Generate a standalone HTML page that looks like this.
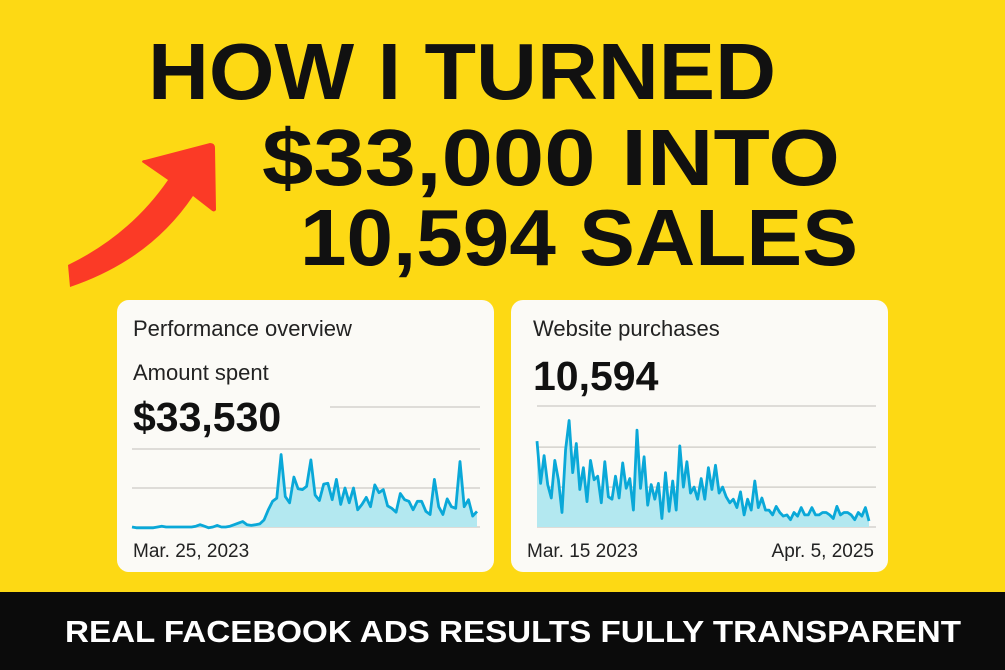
<!DOCTYPE html>
<html><head><meta charset="utf-8"><style>
html,body{margin:0;padding:0;width:1005px;height:670px;overflow:hidden;background:#fdd914}
svg{display:block}
text{font-family:"Liberation Sans",Arial,sans-serif}
</style></head><body>
<svg id="s" width="1005" height="670" viewBox="0 0 1005 670">
<rect width="1005" height="670" fill="#fdd914"/>
<g font-weight="bold" fill="#111">
<text x="148" y="99" font-size="80" textLength="628" lengthAdjust="spacingAndGlyphs">HOW I TURNED</text>
<text x="262" y="185" font-size="80" textLength="578" lengthAdjust="spacingAndGlyphs">$33,000 INTO</text>
<text x="300" y="265" font-size="80" textLength="558" lengthAdjust="spacingAndGlyphs">10,594 SALES</text>
</g>
<path d="M68,265 Q130,235 168,180 L142,162 Q142,160 145,160 L210,143 Q215,143 215,148 L216,210 Q214,213 211,210 L193,196 Q150,260 70,287 Z" fill="#fb3a26"/>

<rect x="117" y="300" width="377" height="272" rx="12" fill="#fbfaf6"/>
<rect x="511" y="300" width="377" height="272" rx="12" fill="#fbfaf6"/>

<text x="133" y="336" font-size="22" fill="#222">Performance overview</text>
<text x="133" y="380" font-size="22" fill="#222">Amount spent</text>
<text x="133" y="431" font-size="41" font-weight="bold" fill="#111">$33,530</text>
<text x="133" y="557" font-size="19" fill="#222">Mar. 25, 2023</text>

<text x="533" y="336" font-size="22" fill="#222">Website purchases</text>
<text x="533" y="390" font-size="41" font-weight="bold" fill="#111">10,594</text>
<text x="527" y="557" font-size="19" fill="#222">Mar. 15  2023</text>
<text x="874" y="557" font-size="19" fill="#222" text-anchor="end">Apr. 5, 2025</text>

<g id="c1"></g>
<g id="c2"></g>

<rect x="0" y="592" width="1005" height="78" fill="#0b0b0b"/>
<text x="513" y="642" font-size="31" font-weight="bold" fill="#fff" text-anchor="middle" textLength="896" lengthAdjust="spacingAndGlyphs">REAL FACEBOOK ADS RESULTS FULLY TRANSPARENT</text>
</svg>
<script>
const spentValues = [0,-1,-1,-1,-1,-1,0,1,0,0,0,0,0,0,0,1,3,1,-1,0,2,0,0,1,3,5,7,3,2,3,4,
9,22,33,37,93,39,31,64,49,48,52,86,41,34,55,56,35,61,29,50,31,50,22,29,38,26,54,44,48,27,24,19,43,35,33,22,33,33,20,16,61,26,16,36,26,24,84,26,35,14,20];
const purchaseValues = [71,36,59,35,24,55,39,12,64,88,45,69,31,49,21,55,39,42,20,54,25,23,42,24,53,32,40,14,80,32,58,18,35,23,36,7,45,13,38,14,67,33,54,28,33,23,40,23,49,31,51,28,33,25,20,23,16,29,10,23,14,38,16,24,14,14,10,17,12,9,10,6,12,9,16,10,10,16,10,10,12,12,10,7,17,10,12,12,10,6,12,9,16,5];
const spentGridTicks = [0,50,100];
const purchaseGridTicks = [0,33,66,100];

const NS="http://www.w3.org/2000/svg";
function mk(tag,attrs,parent){const e=document.createElementNS(NS,tag);for(const k in attrs)e.setAttribute(k,attrs[k]);parent.appendChild(e);return e;}

function drawChart(gid,vals,ticks,x0,x1,gx0,gx1,y0,y1,extraLine){
  const g=document.getElementById(gid);
  const ys=v=>y0-(v/100)*(y0-y1);
  const xs=i=>x0+i*(x1-x0)/(vals.length-1);
  ticks.forEach(t=>{
    const l=mk('line',{x1:gx0,x2:gx1,y1:ys(t),y2:ys(t),stroke:'#d4d2cd','stroke-width':1.5},g);
    
    
  });
  if(extraLine){
    const l=mk('line',{x1:extraLine[0],x2:gx1,y1:extraLine[1],y2:extraLine[1],stroke:'#d4d2cd','stroke-width':1.5},g);
    
    
  }
  let d='';vals.forEach((v,i)=>{d+=(i?'L':'M')+xs(i).toFixed(1)+','+ys(v).toFixed(1);});
  const area=mk('path',{d:d+'L'+xs(vals.length-1)+','+y0+'L'+x0+','+y0+'Z',fill:'#b3e8f0'},g);
  
  
  const line=mk('path',{d:d,fill:'none',stroke:'#0aa8d8','stroke-width':2.8,'stroke-linejoin':'round'},g);
  
  
}
drawChart('c1',spentValues,spentGridTicks,132,477,132,480,527,449,[330,407]);
drawChart('c2',purchaseValues,purchaseGridTicks,537,869,537,876,527,406,null);
</script>
</body></html>
